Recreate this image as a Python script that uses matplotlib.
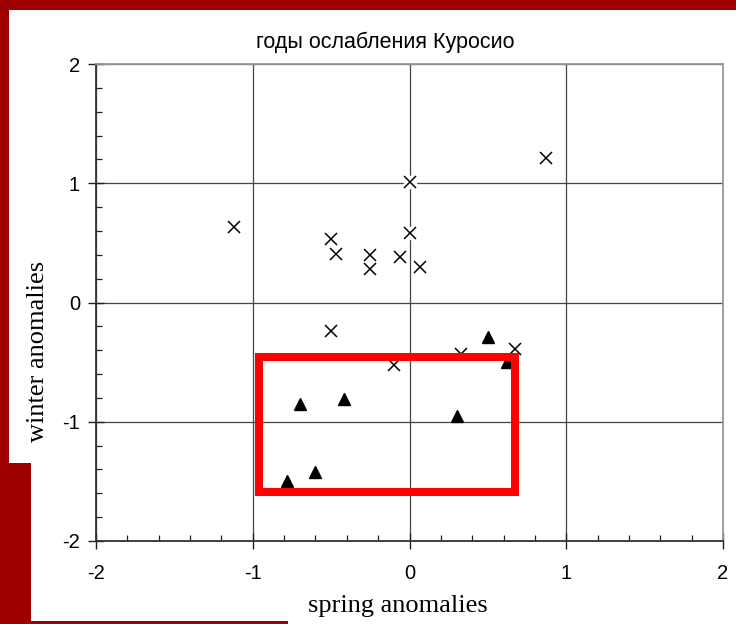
import matplotlib
matplotlib.use("Agg")
import matplotlib.pyplot as plt
from matplotlib.patches import Rectangle
from matplotlib.ticker import MultipleLocator

# data
cross_x = [-1.12, -0.50, -0.47, -0.25, -0.25, -0.06, 0.00, 0.00, 0.07, 0.87, -0.50, -0.10, 0.33, 0.67]
cross_y = [0.63, 0.53, 0.41, 0.40, 0.28, 0.38, 1.01, 0.58, 0.30, 1.21, -0.24, -0.52, -0.43, -0.39]
tri_x = [-0.70, -0.42, 0.30, 0.50, 0.62, -0.60, -0.78]
tri_y = [-0.85, -0.81, -0.95, -0.29, -0.50, -1.42, -1.50]
box_x = [-0.963, 0.67]
box_y = [-1.593, -0.461]
ticks = [-2, -1, 0, 1, 2]

title = "годы ослабления Куросио"
xlabel = "spring anomalies"
ylabel = "winter anomalies"

plt.rcParams["axes.unicode_minus"] = False

W, H = 736, 624
dark_red = "#9c0000"

fig = plt.figure(figsize=(W / 100, H / 100), dpi=100, facecolor="white")

# red slide frame
def px_rect(x0, y0, x1, y1):
    fig.patches.append(Rectangle((x0 / W, 1 - y1 / H), (x1 - x0) / W, (y1 - y0) / H,
                                 transform=fig.transFigure, facecolor=dark_red,
                                 edgecolor="none", zorder=0))

px_rect(0, 0, W, 10)
px_rect(0, 0, 9, 464)
px_rect(0, 463, 31, H)
px_rect(0, 621, 288, H)

ax = fig.add_axes([96 / W, 1 - 541 / H, (723 - 96) / W, (541 - 64) / H])
ax.set_xlim(-2, 2)
ax.set_ylim(-2, 2)

ax.set_xticks(ticks)
ax.set_yticks(ticks)
ax.set_xticklabels([str(v) for v in ticks], fontsize=14.5, fontfamily="Liberation Sans")
ax.set_yticklabels([str(v) for v in ticks], fontsize=14.5, fontfamily="Liberation Sans")
ax.xaxis.set_minor_locator(MultipleLocator(0.2))
ax.yaxis.set_minor_locator(MultipleLocator(0.2))
ax.grid(True, which="major", color="#444444", linewidth=0.9, zorder=1)
ax.set_axisbelow(True)

ax.tick_params(which="major", direction="inout", length=11, width=1.0, color="#222222")
ax.tick_params(axis="x", which="major", pad=11)
ax.tick_params(axis="y", which="major", pad=6)
ax.tick_params(which="minor", direction="in", length=4, width=0.9, color="#222222")

for s in ["left", "bottom"]:
    ax.spines[s].set_color("#333333")
    ax.spines[s].set_linewidth(1.3)
for s in ["top", "right"]:
    ax.spines[s].set_color("#999999")
    ax.spines[s].set_linewidth(1.3)

# white halos behind markers (markers cut the grid lines)
ax.plot(cross_x, cross_y, linestyle="none", marker="s", markersize=9,
        color="white", zorder=2)
ax.plot(tri_x, tri_y, linestyle="none", marker="s", markersize=8,
        color="white", zorder=2)
ax.plot(cross_x, cross_y, linestyle="none", marker="x", markersize=8.5,
        markeredgewidth=1.1, color="black", zorder=3)
ax.plot(tri_x, tri_y, linestyle="none", marker="^", markersize=8,
        color="black", zorder=3)

ax.add_patch(Rectangle((box_x[0], box_y[0]), box_x[1] - box_x[0], box_y[1] - box_y[0],
                       fill=False, edgecolor="#ff0000", linewidth=5.8,
                       joinstyle="miter", zorder=5, clip_on=False))

fig.text(385 / W, 1 - 42 / H, title, ha="center", va="center",
         fontsize=15.5, fontfamily="Liberation Sans")
fig.text(398 / W, 1 - 606 / H, xlabel, ha="center", va="center",
         fontsize=19, fontfamily="Liberation Serif")
fig.text(38 / W, 1 - 351 / H, ylabel, ha="center", va="center", rotation=90,
         fontsize=19, fontfamily="Liberation Serif")

fig.savefig("out.png", dpi=100, facecolor=fig.get_facecolor())
